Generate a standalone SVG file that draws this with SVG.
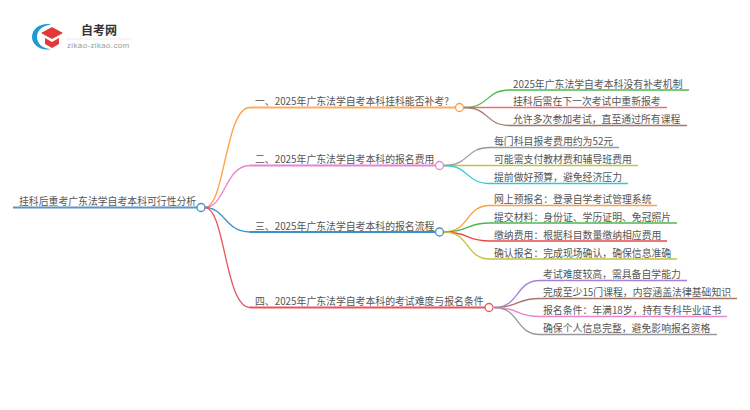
<svg xmlns="http://www.w3.org/2000/svg" width="750" height="410" viewBox="0 0 750 410">
<style>
text{font-family:"Noto Sans CJK SC","Liberation Sans",sans-serif;font-size:9.850px;fill:#555}
.c{fill:none;stroke-width:1.300}
.u{fill:none;stroke-width:1.800}
.n{fill:#fff;stroke-width:1.300}
</style>
<rect width="750" height="410" fill="#fff"/>
<g id="logo">
<path d="M51 24.500C42 22.500 32 28 32 37C32 45 41 51.500 51 49C43 49 37 44 37 37C37 30 43 25.500 51 24.500Z" fill="#1d9ad6"/>
<path d="M41 33L52 27L63 33L52 39Z" fill="#e2383a"/>
<path d="M45 38L52 42L59 38V44L52 48L45 44Z" fill="#e2383a"/>
<text x="81" y="35" style="font-size:12px;font-weight:700;fill:#333">自考网</text>
<path d="M66 39H131" stroke="#e8e8e8" stroke-width="0.800"/>
<text x="67" y="48" style="font-family:'Liberation Sans',sans-serif;font-size:8px;fill:#999;letter-spacing:.35px">zikao-zikao.com</text>
</g>
<g id="connectors">
<path class="c" stroke="#ff9f43" d="M205 207.500C225 207.500 225 107.500 250 107.500"/>
<path class="c" stroke="#e884d0" d="M205 207.500C225 207.500 225 165.500 250 165.500"/>
<path class="c" stroke="#3f8fc9" d="M205 207.500C225 207.500 225 232 250 232"/>
<path class="c" stroke="#e8555a" d="M205 207.500C225 207.500 225 307.500 250 307.500"/>
<path class="u" stroke="#5a96c8" d="M13 207.500H197"/>
<path class="u" stroke="#ffab66" d="M250 107.500H456"/>
<path class="u" stroke="#e884d0" d="M250 165.500H436"/>
<path class="u" stroke="#3f8fc9" d="M250 232H436"/>
<path class="u" stroke="#e8555a" d="M250 307.500H485"/>
<path class="c" stroke="#4cb84c" d="M464 107.500C490 107.500 485 90 510 90H689"/>
<path class="c" stroke="#e87070" d="M464 107.500H667"/>
<path class="c" stroke="#a5766a" d="M464 107.500C490 107.500 485 125.500 510 125.500H687"/>
<path class="c" stroke="#999" d="M444 165.500C470 165.500 465 147.500 490 147.500H619"/>
<path class="c" stroke="#c4c43c" d="M444 165.500H638"/>
<path class="c" stroke="#30c8d8" d="M444 165.500C470 165.500 465 183.500 490 183.500H628"/>
<path class="c" stroke="#ff9f43" d="M444 232C470 232 465 205.500 490 205.500H657"/>
<path class="c" stroke="#4cb84c" d="M444 232C470 232 465 223 490 223H677"/>
<path class="c" stroke="#e84a4a" d="M444 232C470 232 465 241 490 241H667"/>
<path class="c" stroke="#c4c43c" d="M444 232C470 232 465 259 490 259H677"/>
<path class="c" stroke="#a97fd6" d="M494 307.500C520 307.500 515 280.500 540 280.500H687"/>
<path class="c" stroke="#a5766a" d="M494 307.500C520 307.500 515 298.500 540 298.500H737"/>
<path class="c" stroke="#e884d0" d="M494 307.500C520 307.500 515 316.500 540 316.500H727"/>
<path class="c" stroke="#999" d="M494 307.500C520 307.500 515 334.500 540 334.500H717"/>
</g>
<g id="root"><text x="19" y="205">挂科后重考广东法学自考本科可行性分析</text><circle class="n" stroke="#3f8fc9" cx="201" cy="207.500" r="4"/></g>
<g id="b1"><text x="255" y="105">一、2025年广东法学自考本科挂科能否补考?</text><circle class="n" stroke="#ff9f43" cx="459.500" cy="107.500" r="4"/></g>
<g id="b2"><text x="255" y="163">二、2025年广东法学自考本科的报名费用</text><circle class="n" stroke="#e884d0" cx="439.500" cy="165.500" r="4"/></g>
<g id="b3"><text x="255" y="229.500">三、2025年广东法学自考本科的报名流程</text><circle class="n" stroke="#3f8fc9" cx="439.500" cy="232" r="4"/></g>
<g id="b4"><text x="255" y="305">四、2025年广东法学自考本科的考试难度与报名条件</text><circle class="n" stroke="#e8555a" cx="489" cy="307.500" r="4"/></g>
<g id="l11"><text x="513" y="87.500">2025年广东法学自考本科没有补考机制</text></g>
<g id="l12"><text x="513" y="105">挂科后需在下一次考试中重新报考</text></g>
<g id="l13"><text x="513" y="123">允许多次参加考试，直至通过所有课程</text></g>
<g id="l21"><text x="494" y="145">每门科目报考费用约为52元</text></g>
<g id="l22"><text x="494" y="163">可能需支付教材费和辅导班费用</text></g>
<g id="l23"><text x="494" y="181">提前做好预算，避免经济压力</text></g>
<g id="l31"><text x="494" y="203">网上预报名：登录自学考试管理系统</text></g>
<g id="l32"><text x="494" y="220.500">提交材料：身份证、学历证明、免冠照片</text></g>
<g id="l33"><text x="494" y="238.500">缴纳费用：根据科目数量缴纳相应费用</text></g>
<g id="l34"><text x="494" y="256.500">确认报名：完成现场确认，确保信息准确</text></g>
<g id="l41"><text x="543" y="278">考试难度较高，需具备自学能力</text></g>
<g id="l42"><text x="543" y="296">完成至少15门课程，内容涵盖法律基础知识</text></g>
<g id="l43"><text x="543" y="314">报名条件：年满18岁，持有专科毕业证书</text></g>
<g id="l44"><text x="543" y="332">确保个人信息完整，避免影响报名资格</text></g>
</svg>
